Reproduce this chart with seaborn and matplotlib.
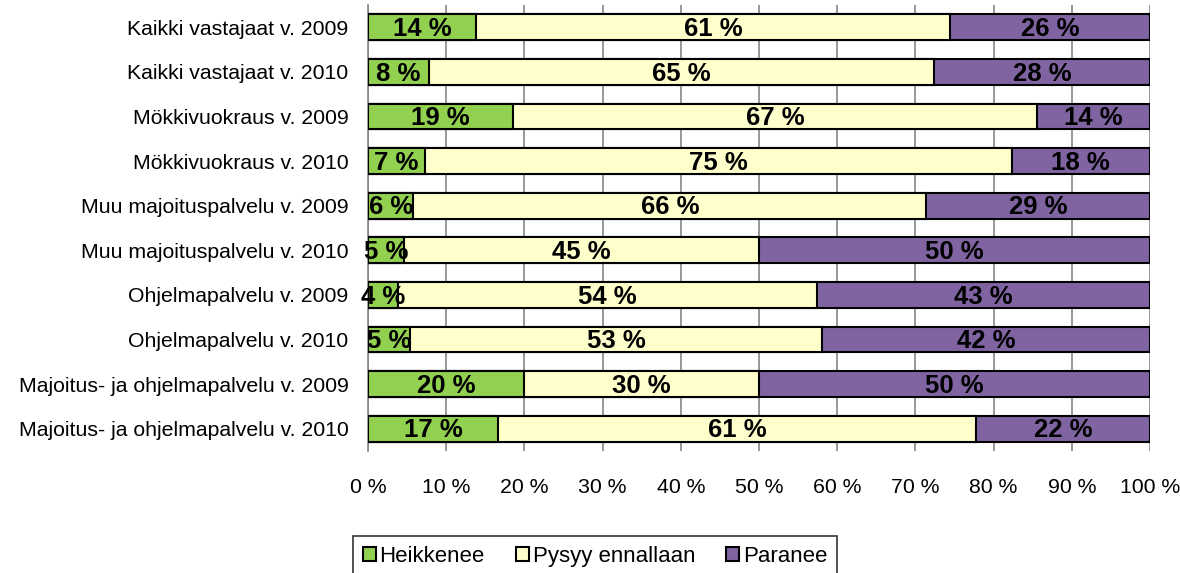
import numpy as np
import pandas as pd
import matplotlib
matplotlib.use("Agg")
import matplotlib.pyplot as plt
import seaborn as sns

# Data (percent of respondents)
kategoriat = [
    "Kaikki vastajaat v. 2009",
    "Kaikki vastajaat v. 2010",
    "Mökkivuokraus v. 2009",
    "Mökkivuokraus v. 2010",
    "Muu majoituspalvelu v. 2009",
    "Muu majoituspalvelu v. 2010",
    "Ohjelmapalvelu v. 2009",
    "Ohjelmapalvelu v. 2010",
    "Majoitus- ja ohjelmapalvelu v. 2009",
    "Majoitus- ja ohjelmapalvelu v. 2010",
]
heikkenee = [13.8, 7.8, 18.6, 7.3, 5.8, 4.6, 3.8, 5.4, 20.0, 16.6]
pysyy = [60.6, 64.6, 67.0, 75.0, 65.6, 45.4, 53.6, 52.6, 30.0, 61.2]
paranee = [25.6, 27.6, 14.4, 17.7, 28.6, 50.0, 42.6, 42.0, 50.0, 22.2]

sarjat = ["Heikkenee", "Pysyy ennallaan", "Paranee"]
varit = ["#92D050", "#FFFFCC", "#8064A2"]

sns.set_theme(style="white")
plt.rcParams["font.family"] = ["Liberation Sans", "DejaVu Sans"]
plt.rcParams["text.color"] = "black"
plt.rcParams["xtick.color"] = "black"
plt.rcParams["ytick.color"] = "black"

df = pd.DataFrame({"Kategoria": kategoriat, "Heikkenee": heikkenee,
                   "Pysyy ennallaan": pysyy, "Paranee": paranee})
kum = df[sarjat].cumsum(axis=1)

fig = plt.figure(figsize=(11.8, 5.73), dpi=100)
ax = fig.add_axes([368 / 1180, 1 - 451 / 573, 782 / 1180, 446 / 573])

# stacked bars: draw cumulative totals from the longest to the shortest
for sarja, vari in reversed(list(zip(sarjat, varit))):
    sns.barplot(x=kum[sarja], y=df["Kategoria"], color=vari, orient="h",
                width=0.58, saturation=1, edgecolor="black", linewidth=1.5,
                ax=ax, label=sarja, zorder=3)

# value labels in the middle of each segment
for i in range(len(df)):
    alku = 0
    for sarja in sarjat:
        arvo = df.loc[i, sarja]
        ax.text(alku + arvo / 2, i + 0.04, f"{round(arvo)} %", ha="center",
                va="center", fontsize=18.5, fontweight="bold", color="black",
                zorder=5)
        alku += arvo

ax.set_xlim(0, 100)
ax.set_ylim(len(df) - 0.5, -0.5)
ax.set_xticks(np.arange(0, 101, 10))
ax.set_xticklabels([f"{v} %" for v in range(0, 101, 10)], fontsize=15.3)
ax.tick_params(axis="x", length=0, pad=19.5, labelcolor="black")
ax.tick_params(axis="y", length=0, pad=14, labelsize=15.3, labelcolor="black")
ax.set_xlabel("")
ax.set_ylabel("")
ax.grid(axis="x", color="#868686", linewidth=1.2, zorder=0)
ax.set_axisbelow(True)
for s in ["top", "right", "bottom"]:
    ax.spines[s].set_visible(False)
ax.spines["left"].set_color("#868686")
ax.spines["left"].set_linewidth(1.2)

handles, labels = ax.get_legend_handles_labels()
jarj = {l: h for h, l in zip(handles, labels)}
leg = ax.legend([jarj[s] for s in sarjat], sarjat, loc="upper center",
                bbox_to_anchor=(595 / 1180, 1 - 536 / 573),
                bbox_transform=fig.transFigure, ncol=3, frameon=True,
                fancybox=False, edgecolor="black", fontsize=16,
                handlelength=0.6, handleheight=0.6, handletextpad=0.15,
                columnspacing=1.4, borderpad=0.45, borderaxespad=0,
                labelcolor="black")
leg.get_frame().set_linewidth(1.2)

fig.savefig("out.png", dpi=100)
